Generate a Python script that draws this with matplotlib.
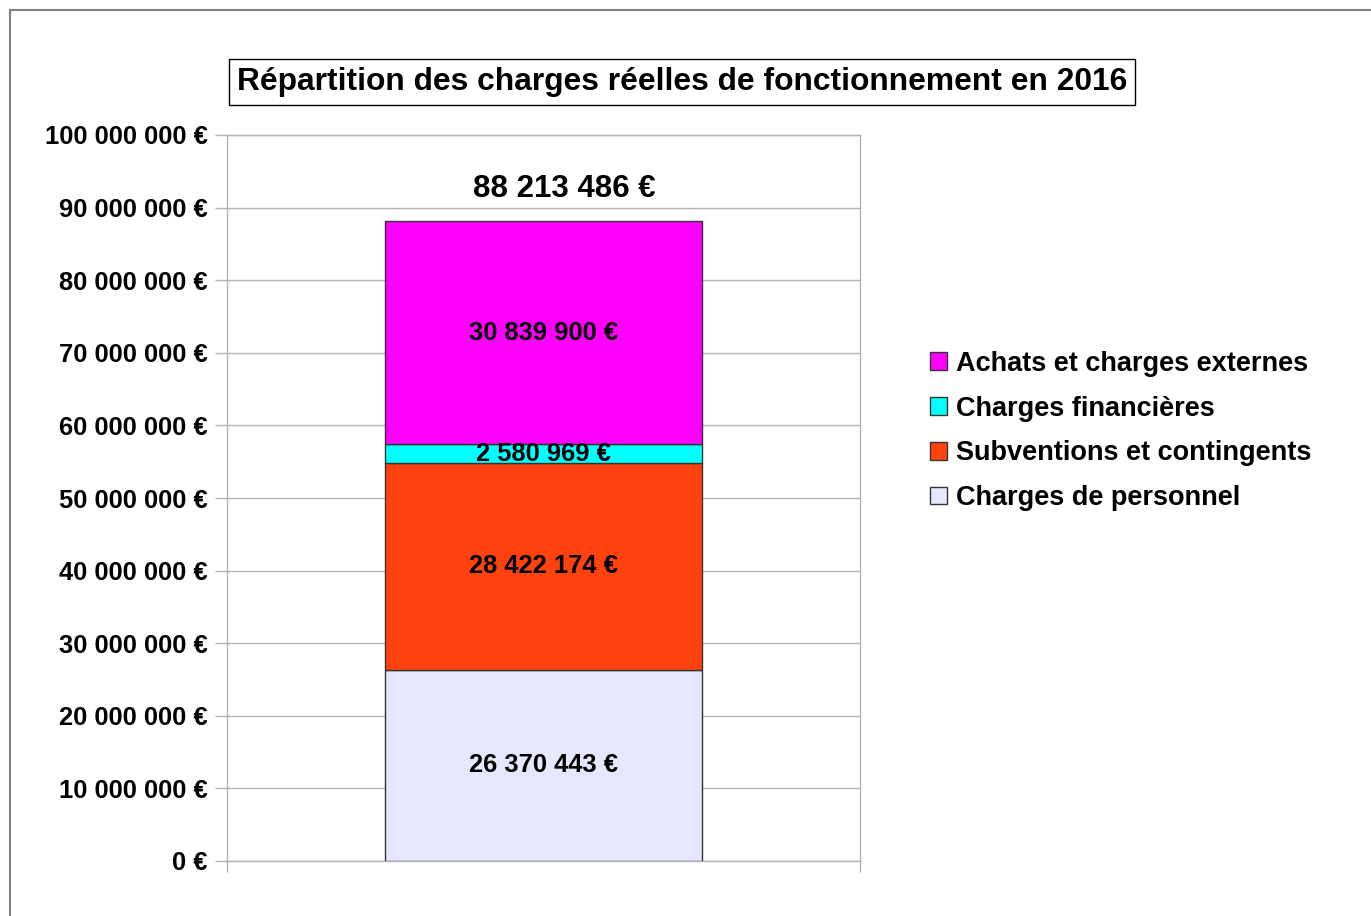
import matplotlib.pyplot as plt
from matplotlib.patches import Rectangle, Patch

plt.rcParams['font.family'] = ['Liberation Sans', 'DejaVu Sans']
plt.rcParams['font.weight'] = 'bold'

# Data
categories = ['Charges de personnel', 'Subventions et contingents',
              'Charges financières', 'Achats et charges externes']
values = [26370443, 28422174, 2580969, 30839900]
colors = ['#e6e6ff', '#ff420e', '#00ffff', '#ff00ff']
yticks = list(range(0, 100000001, 10000000))


def euro(v):
    return f"{v:,}".replace(",", " ") + " €"


fig = plt.figure(figsize=(13.71, 9.16), dpi=100)
ax = fig.add_axes([227 / 1371, 1 - 861 / 916, 633 / 1371, 726 / 916])

# stacked bar
bottom = 0
for name, v, c in zip(categories, values, colors):
    ax.bar(0, v, width=0.5, bottom=bottom, color=c, edgecolor='#333333',
           linewidth=1, zorder=3, label=name)
    ax.text(0, bottom + v / 2, euro(v), ha='center', va='center',
            fontsize=18.4, fontweight='bold', zorder=4)
    bottom += v

# total above the bar
total = sum(values)
ax.annotate(euro(total), (0, total), xytext=(15, 23), textcoords='offset points',
            ha='center', va='center', fontsize=22.5, fontweight='bold')

ax.set_xlim(-0.5, 0.5)
ax.set_ylim(0, 100000000)
ax.set_yticks(yticks)
ax.set_yticklabels([euro(t) for t in yticks], fontsize=18.4, fontweight='bold')
ax.set_xticks([-0.5, 0.5])
ax.set_xticklabels([])
ax.tick_params(axis='y', length=9, color='#b3b3b3', width=1, pad=5)
ax.tick_params(axis='x', length=8, color='#b3b3b3', width=1)
ax.grid(axis='y', color='#b3b3b3', linewidth=1, zorder=0)
for s in ax.spines.values():
    s.set_color('#b3b3b3')
    s.set_linewidth(1)

# legend
handles = [Patch(facecolor=c, edgecolor='#333333', linewidth=1, label=n)
           for n, c in zip(categories, colors)][::-1]
fig.legend(handles=handles, loc='center left',
           bbox_to_anchor=(906 / 1371, 1 - 431 / 916), frameon=False,
           prop={'size': 19.5, 'weight': 'bold'}, handlelength=0.6,
           handleheight=0.6, handletextpad=0.33, labelspacing=0.7)

# title in a box
fig.text(682 / 1371, 1 - 82 / 916,
         'Répartition des charges réelles de fonctionnement en 2016',
         ha='center', va='center', fontsize=22.9, fontweight='bold',
         bbox=dict(boxstyle='square,pad=0.26', fc='white', ec='black', lw=1))

# outer frame
fig.patches.append(Rectangle((10 / 1371, -0.1), 1.2, 1.1 - 10 / 916,
                             transform=fig.transFigure, fill=False,
                             edgecolor='#808080', linewidth=1.5))

fig.savefig('out.png', dpi=100)
